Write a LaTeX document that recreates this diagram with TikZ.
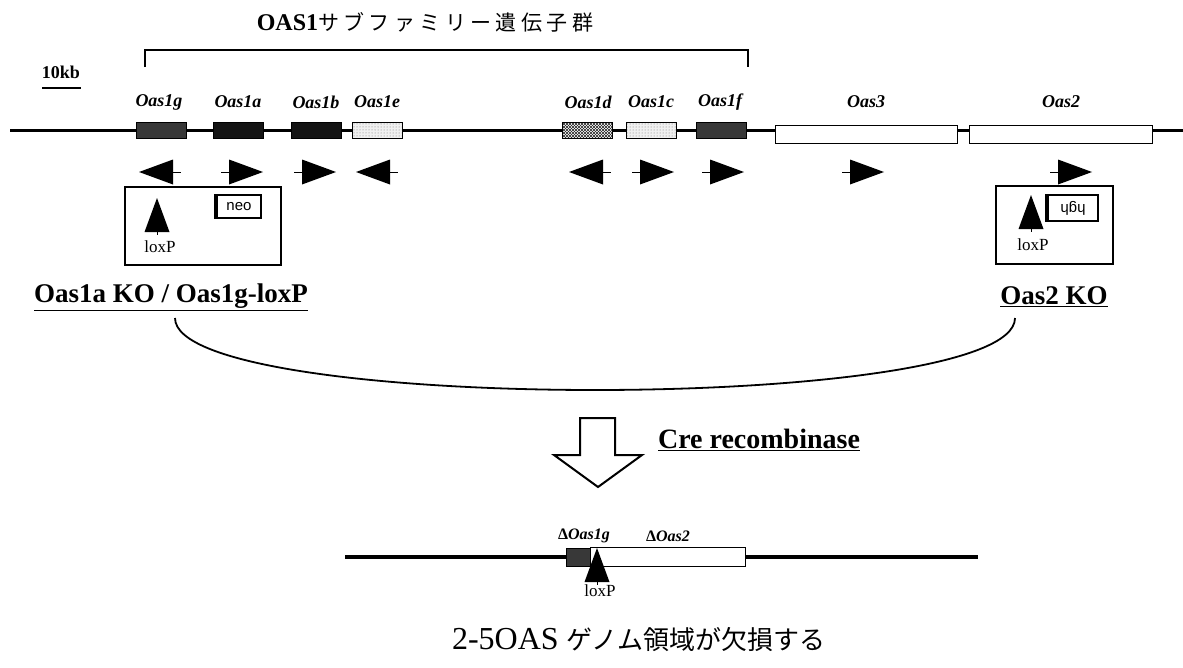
\documentclass[tikz,border=0pt]{standalone}
\usepackage{fontspec}
\setmainfont{Liberation Serif}
\setsansfont{Liberation Sans}
\newfontfamily\cjk{Noto Sans CJK JP}
\newfontfamily\cjkwide[LetterSpace=21]{Noto Sans CJK JP}
\usetikzlibrary{patterns}

\tikzset{
  gene/.style={draw, line width=0.9pt, inner sep=0pt, minimum height=16pt, minimum width=50pt},
  darkgene/.style={gene, fill=black!78},
  blackgene/.style={gene, fill=black!92},
  dotgene/.style={gene, preaction={fill=black!6}, pattern=dots, pattern color=black!55},
  hatchgene/.style={gene, preaction={fill=white}, preaction={pattern=north east lines, pattern color=black!85}, pattern=north west lines, pattern color=black!85},
  biggene/.style={draw, line width=1pt, fill=white, inner sep=0pt, minimum height=18pt},
  glabel/.style={font=\fontsize{18}{20}\selectfont\bfseries\itshape, inner sep=0pt},
  kobox/.style={draw, line width=2.2pt, inner sep=0pt},
  marker/.style={draw, line width=1.6pt, inner sep=0pt, font=\sffamily\fontsize{15}{16}\selectfont},
  kolabel/.style={font=\fontsize{27}{30}\selectfont\bfseries, inner sep=0pt},
  loxtext/.style={font=\fontsize{17}{18}\selectfont, inner sep=0pt},
  fwd/.pic={\fill (0,-12.5) -- (34,0) -- (0,12.5) -- cycle;
            \draw[line width=1pt] (-8,0) -- (0,0);},
  rev/.pic={\fill (0,-12.5) -- (-34,0) -- (0,12.5) -- cycle;
            \draw[line width=1pt] (0,0) -- (8,0);},
  loxp/.pic={\fill (0,0) -- (12.5,34) -- (-12.5,34) -- cycle;
             \draw[line width=1pt] (0,34) -- (0,37);}
}

\begin{document}
\begin{tikzpicture}[x=1pt,y=-1pt]
\useasboundingbox (0,0) rectangle (1183,667);

% title and bracket over the OAS1 cluster
\node[inner sep=0pt] (title) at (425,22)
  {\fontsize{24}{26}\selectfont\bfseries OAS1\mdseries\cjkwide\fontsize{21}{26}\selectfont サブファミリー遺伝子群};
\coordinate (brL) at (145,67);
\coordinate (brR) at (748,67);
\draw[line width=1.5pt] (brL) |- (446,50) -| (brR);

% scale bar
\node[inner sep=0pt, font=\fontsize{18}{20}\selectfont\bfseries] (kb) at (61,72) {10kb};
\coordinate (sbL) at (42,88);
\coordinate (sbR) at (81,88);
\draw[line width=1.5pt] (sbL) -- (sbR);

% chromosome
\coordinate (chrL) at (10,130);
\coordinate (chrR) at (1183,130);
\draw[line width=3pt] (chrL) -- (chrR);

% genes
\node[darkgene]  (g1g) at (161,130) {};
\node[blackgene] (g1a) at (238,130) {};
\node[blackgene] (g1b) at (316,130) {};
\node[dotgene]   (g1e) at (377,130) {};
\node[hatchgene] (g1d) at (587.5,130) {};
\node[dotgene]   (g1c) at (651,130) {};
\node[darkgene]  (g1f) at (721,130) {};
\node[biggene, minimum width=182pt] (g3) at (866,134) {};
\node[biggene, minimum width=183pt] (g2) at (1060.5,134) {};

% gene names
\node[glabel] (lg1g) at (159,102) {Oas1g};
\node[glabel] (lg1a) at (238,102) {Oas1a};
\node[glabel] (lg1b) at (316,102) {Oas1b};
\node[glabel] (lg1e) at (377,102) {Oas1e};
\node[glabel] (lg1d) at (588,102) {Oas1d};
\node[glabel] (lg1c) at (651,102) {Oas1c};
\node[glabel] (lg1f) at (720,102) {Oas1f};
\node[glabel] (lg3)  at (866,102) {Oas3};
\node[glabel] (lg2)  at (1061,102) {Oas2};

% orientation of each gene
\pic at (173,172) {rev};
\pic at (229,172) {fwd};
\pic at (302,172) {fwd};
\pic at (390,172) {rev};
\pic at (603,172) {rev};
\pic at (640,172) {fwd};
\pic at (710,172) {fwd};
\pic at (850,172) {fwd};
\pic at (1058,172) {fwd};

% Oas1a KO / Oas1g-loxP targeting
\node[kobox, minimum width=156pt, minimum height=78pt] (ko1) at (203,226) {};
\pic at (157,198) {loxp};
\node[loxtext] (lox1) at (160,247) {loxP};
\node[marker, minimum width=44pt, minimum height=23pt] (neo) at (239,206.5) {neo};
\draw[line width=3.5pt] (neo.north west) -- (neo.south west);
\node[kolabel] (ko1lab) at (171,297) {\underline{Oas1a KO / Oas1g-loxP}};

% Oas2 KO targeting
\node[kobox, minimum width=117pt, minimum height=78pt] (ko2) at (1054.5,225) {};
\pic at (1031,195) {loxp};
\node[loxtext] (lox2) at (1033,245) {loxP};
\node[marker, minimum width=50pt, minimum height=26pt, rotate=180] (hgh) at (1073,208) {hgh};
\draw[line width=3.5pt] (hgh.north east) -- (hgh.south east);
\node[kolabel] (ko2lab) at (1054,297) {\underline{Oas2 KO}};

% crossing of the two lines
\coordinate (arcL) at (175,318);
\coordinate (arcR) at (1015,318);
\draw[line width=1.8pt] (arcL) .. controls (175,414) and (1015,414) .. (arcR);

% Cre step
\draw[line width=2pt, line join=miter]
  (580,418) -- (615,418) -- (615,455) -- (642,455) -- (598,487)
  -- (554,455) -- (580,455) -- cycle;
\node[font=\fontsize{28}{30}\selectfont\bfseries, inner sep=0pt] (cre) at (759,440)
  {\underline{Cre recombinase}};

% deleted allele
\coordinate (dL) at (345,557);
\coordinate (dR) at (978,557);
\draw[line width=4pt] (dL) -- (dR);
\node[biggene, minimum width=155pt, minimum height=19pt] (d2) at (667.5,556.5) {};
\node[gene, fill=black!78, minimum width=24pt, minimum height=18pt] (d1g) at (578,557) {};
\pic at (597,548) {loxp};
\node[loxtext] (lox3) at (600,591) {loxP};
\node[glabel, font=\fontsize{16}{18}\selectfont\bfseries\itshape] (ld1g) at (584,536) {{\upshape Δ}Oas1g};
\node[glabel, font=\fontsize{16}{18}\selectfont\bfseries\itshape] (ld2) at (668,536) {{\upshape Δ}Oas2};

% result
\node[inner sep=0pt] (result) at (639,640)
  {\fontsize{32}{34}\selectfont 2-5OAS {\cjk\fontsize{26}{34}\selectfont ゲノム領域が欠損する}};
\end{tikzpicture}
\end{document}
